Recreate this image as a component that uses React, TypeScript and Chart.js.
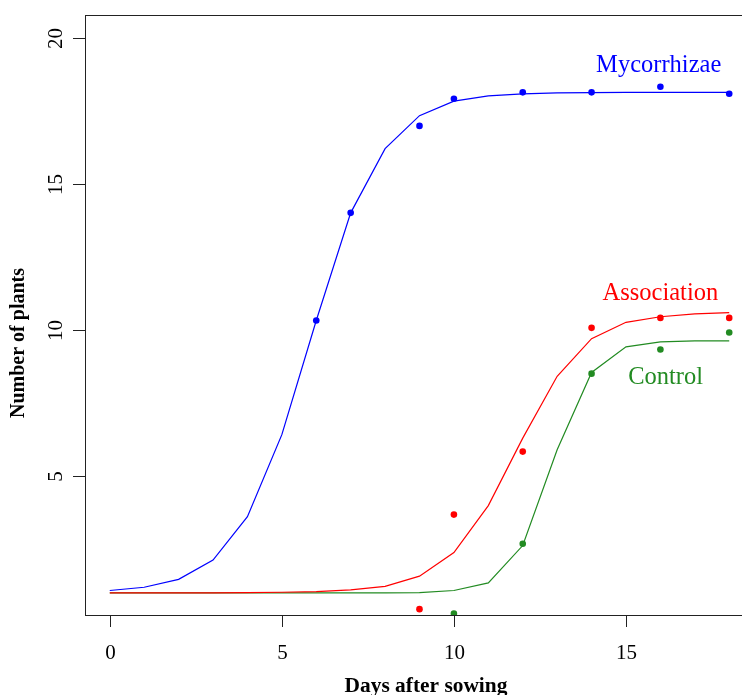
import React, { useEffect, useRef } from "react";
import { Chart, registerables } from "chart.js";

Chart.register(...registerables);

// Days (x) for the fitted curves
const fitDays = [0, 1, 2, 3, 4, 5, 6, 7, 8, 9, 10, 11, 12, 13, 14, 15, 16, 17, 18];
// Fitted curves
const mycoFit = [1.08, 1.19, 1.46, 2.12, 3.61, 6.42, 10.33, 14.02, 16.22, 17.35, 17.85, 18.03, 18.1, 18.13, 18.14, 18.15, 18.15, 18.15, 18.15];
const assocFit = [1.0, 1.0, 1.0, 1.0, 1.01, 1.02, 1.04, 1.1, 1.22, 1.57, 2.38, 3.99, 6.3, 8.42, 9.71, 10.27, 10.46, 10.56, 10.6];
const controlFit = [1.0, 1.0, 1.0, 1.0, 1.0, 1.0, 1.0, 1.0, 1.0, 1.01, 1.08, 1.34, 2.62, 5.9, 8.55, 9.43, 9.6, 9.63, 9.63];

// Observed points
const mycoDays = [6, 7, 9, 10, 12, 14, 16, 18];
const mycoObs = [10.33, 14.02, 17.0, 17.93, 18.15, 18.15, 18.34, 18.1];
const assocDays = [9, 10, 12, 14, 16, 18];
const assocObs = [0.44, 3.68, 5.84, 10.08, 10.42, 10.42];
const controlDays = [10, 12, 14, 16, 18];
const controlObs = [0.29, 2.68, 8.51, 9.34, 9.92];

// Axis ticks
const xTicks = [0, 5, 10, 15];
const yTicks = [5, 10, 15, 20];

// Labels
const seriesNames = ["Mycorrhizae", "Association", "Control"];
const labelX = [15.95, 16, 16.15];
const labelY = [19.08, 11.25, 8.37];
const xTitle = "Days after sowing";
const yTitle = "Number of plants";

const BLUE = "#0000ff";
const RED = "#ff0000";
const GREEN = "#228b22";
const colors = [BLUE, RED, GREEN];

const pts = (xs: number[], ys: number[]) => xs.map((x, i) => ({ x, y: ys[i] }));

const rPlot = {
  id: "rPlot",
  afterDraw(chart: any) {
    const { ctx, chartArea: a, scales } = chart;
    const xs = scales.x;
    const ys = scales.y;
    ctx.save();
    ctx.strokeStyle = "#222";
    ctx.lineWidth = 1;
    ctx.strokeRect(Math.round(a.left) + 0.5, Math.round(a.top) + 0.5, a.right - a.left, a.bottom - a.top);
    const serif = "'Liberation Serif', 'Times New Roman', serif";
    ctx.fillStyle = "#000";
    // x ticks
    ctx.font = `21px ${serif}`;
    ctx.textAlign = "center";
    ctx.textBaseline = "middle";
    xTicks.forEach((v) => {
      const px = Math.round(xs.getPixelForValue(v)) + 0.5;
      ctx.beginPath();
      ctx.moveTo(px, a.bottom);
      ctx.lineTo(px, a.bottom + 12);
      ctx.stroke();
      ctx.fillText(String(v), px, 653);
    });
    // y ticks
    yTicks.forEach((v) => {
      const py = Math.round(ys.getPixelForValue(v)) + 0.5;
      ctx.beginPath();
      ctx.moveTo(a.left, py);
      ctx.lineTo(a.left - 12, py);
      ctx.stroke();
      ctx.save();
      ctx.translate(56, py);
      ctx.rotate(-Math.PI / 2);
      ctx.fillText(String(v), 0, 0);
      ctx.restore();
    });
    // titles
    ctx.font = `bold 21.4px ${serif}`;
    ctx.fillText(xTitle, 426, 686);
    ctx.font = `bold 20px ${serif}`;
    ctx.save();
    ctx.translate(19, 343);
    ctx.rotate(-Math.PI / 2);
    ctx.fillText(yTitle, 0, 0);
    ctx.restore();
    // series labels
    ctx.font = `24.5px ${serif}`;
    seriesNames.forEach((n, i) => {
      ctx.fillStyle = colors[i];
      ctx.fillText(n, xs.getPixelForValue(labelX[i]), ys.getPixelForValue(labelY[i]));
    });
    ctx.restore();
  },
};

export default function App() {
  const ref = useRef<HTMLCanvasElement>(null);
  useEffect(() => {
    if (!ref.current) return;
    const lineDs = (data: number[], color: string) => ({
      data: pts(fitDays, data),
      showLine: true,
      borderColor: color,
      borderWidth: 1.2,
      pointRadius: 0,
      fill: false,
      tension: 0,
    });
    const pointDs = (xs: number[], ys: number[], color: string) => ({
      data: pts(xs, ys),
      showLine: false,
      pointRadius: 3.3,
      pointBackgroundColor: color,
      pointBorderColor: color,
      pointBorderWidth: 0,
    });
    const chart = new Chart(ref.current, {
      type: "scatter",
      data: {
        datasets: [
          lineDs(mycoFit, BLUE),
          lineDs(assocFit, RED),
          lineDs(controlFit, GREEN),
          pointDs(mycoDays, mycoObs, BLUE),
          pointDs(assocDays, assocObs, RED),
          pointDs(controlDays, controlObs, GREEN),
        ] as any,
      },
      options: {
        animation: false,
        responsive: false,
        devicePixelRatio: 1,
        layout: { padding: { left: 85, top: 15, right: 46, bottom: 80 } },
        plugins: { legend: { display: false }, tooltip: { enabled: false } },
        scales: {
          x: { type: "linear", display: false, min: -0.72, max: 18.72 },
          y: { type: "linear", display: false, min: 0.24, max: 20.8 },
        },
      },
      plugins: [rPlot],
    });
    return () => chart.destroy();
  }, []);
  return (
    <div style={{ position: "fixed", left: 0, top: 0, width: 742, height: 695, overflow: "hidden", background: "#fff" }}>
      <canvas ref={ref} width={800} height={695} style={{ width: 800, height: 695, display: "block" }} />
    </div>
  );
}
